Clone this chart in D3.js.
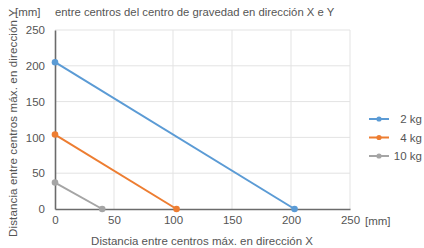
<!DOCTYPE html>
<html>
<head>
<meta charset="utf-8">
<script src="https://cdn.jsdelivr.net/npm/d3@7"></script>
<style>
  body { margin: 0; background: #fff; }
  text { font-family: "Liberation Sans", Arial, sans-serif; fill: #555; }
</style>
</head>
<body>
<svg width="424" height="248"></svg>
<script>
var svg = d3.select("svg"),
    width = +svg.attr("width"),
    height = +svg.attr("height");

// data
var seriesNames = ["2 kg", "4 kg", "10 kg"];
var seriesColors = ["#5b9bd5", "#ed7d31", "#a5a5a5"];
var maxY = [205, 104, 37];   // value at X = 0
var maxX = [203, 103, 40];   // value at Y = 0
var xTicks = [0, 50, 100, 150, 200, 250];
var yTicks = [0, 50, 100, 150, 200, 250];

var plotLeft = 55, plotRight = 350, plotTop = 30, plotBottom = 209;

var x = d3.scaleLinear().domain([0, 250]).range([plotLeft, plotRight]);
var y = d3.scaleLinear().domain([0, 250]).range([plotBottom, plotTop]);

// grid
svg.append("g").selectAll("line")
    .data(yTicks.slice(1))
    .enter().append("line")
    .attr("x1", plotLeft).attr("x2", plotRight)
    .attr("y1", function(d) { return y(d); })
    .attr("y2", function(d) { return y(d); })
    .attr("stroke", "#e3e3e3");

svg.append("g").selectAll("line")
    .data(xTicks.slice(1))
    .enter().append("line")
    .attr("x1", function(d) { return x(d); })
    .attr("x2", function(d) { return x(d); })
    .attr("y1", plotTop).attr("y2", plotBottom)
    .attr("stroke", "#e3e3e3");

// axes
var xAxis = svg.append("g")
    .attr("transform", "translate(0," + plotBottom + ")")
    .call(d3.axisBottom(x).tickValues(xTicks).tickSize(0).tickPadding(7));
var yAxis = svg.append("g")
    .attr("transform", "translate(" + plotLeft + ",0)")
    .call(d3.axisLeft(y).tickValues(yTicks).tickSize(0).tickPadding(10));

[xAxis, yAxis].forEach(function(a) {
    a.select(".domain").attr("stroke", "#6b6b6b").attr("stroke-width", 1.6);
    a.selectAll("text").attr("font-size", 11.5).attr("fill", "#555")
        .attr("font-family", "Liberation Sans, Arial, sans-serif");
});

// series
var series = seriesNames.map(function(name, i) {
    return { name: name, color: seriesColors[i], pts: [[0, maxY[i]], [maxX[i], 0]] };
});

var line = d3.line()
    .x(function(d) { return x(d[0]); })
    .y(function(d) { return y(d[1]); });

series.forEach(function(s) {
    svg.append("path")
        .attr("d", line(s.pts))
        .attr("fill", "none")
        .attr("stroke", s.color)
        .attr("stroke-width", 2);
    svg.selectAll(null)
        .data(s.pts)
        .enter().append("circle")
        .attr("cx", function(d) { return x(d[0]); })
        .attr("cy", function(d) { return y(d[1]); })
        .attr("r", 3.3)
        .attr("fill", s.color);
});

// legend
var legend = svg.append("g").selectAll("g")
    .data(series)
    .enter().append("g")
    .attr("transform", function(d, i) { return "translate(0," + (119 + i * 18.5) + ")"; });
legend.append("line")
    .attr("x1", 369).attr("x2", 389)
    .attr("stroke", function(d) { return d.color; })
    .attr("stroke-width", 2);
legend.append("circle")
    .attr("cx", 379).attr("r", 2.6)
    .attr("fill", function(d) { return d.color; });
legend.append("text")
    .attr("x", 422).attr("dy", "0.35em")
    .attr("text-anchor", "end")
    .attr("font-size", 11.5)
    .text(function(d) { return d.name; });

// titles
svg.append("text")
    .attr("x", 202).attr("y", 245)
    .attr("text-anchor", "middle")
    .attr("font-size", 11.5)
    .text("Distancia entre centros máx. en dirección X");

svg.append("text")
    .attr("x", 365).attr("y", 225)
    .attr("font-size", 11.5)
    .text("[mm]");

svg.append("text")
    .attr("transform", "translate(17,237) rotate(-90)")
    .attr("font-size", 11.5)
    .attr("textLength", 228)
    .text("Distancia entre centros máx. en dirección Y");

svg.append("text")
    .attr("x", 15).attr("y", 16)
    .attr("font-size", 11.5)
    .text("[mm]");

svg.append("text")
    .attr("x", 55).attr("y", 16)
    .attr("font-size", 11.3)
    .text("entre centros del centro de gravedad en dirección X e Y");
</script>
</body>
</html>
